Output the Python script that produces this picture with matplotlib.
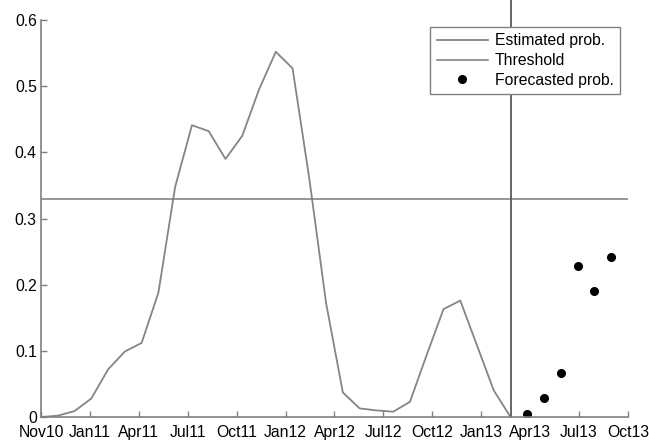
import numpy as np
import matplotlib.pyplot as plt

plt.rcParams['font.family'] = ['Liberation Sans', 'DejaVu Sans']

# months counted from Nov10
tick_labels = ["Nov10", "Jan11", "Apr11", "Jul11", "Oct11", "Jan12", "Apr12",
               "Jul12", "Oct12", "Jan13", "Apr13", "Jul13", "Oct13"]

est_prob = [0.0, 0.002, 0.009, 0.028, 0.072, 0.099, 0.112, 0.188, 0.348,
            0.441, 0.432, 0.390, 0.425, 0.495, 0.552, 0.527, 0.360, 0.172,
            0.037, 0.013, 0.010, 0.008, 0.023, 0.094, 0.163, 0.176, 0.108,
            0.040, 0.0]
fc_prob = [0.005, 0.028, 0.067, 0.228, 0.190, 0.242]
threshold = 0.329
n_months = 35

est_x = np.arange(len(est_prob))
fc_x = np.arange(len(fc_prob)) + len(est_prob)
cutoff = est_x[-1]

fig = plt.figure(figsize=(6.49, 4.41), dpi=100)
ax = fig.add_axes([0.0632, 0.0544, 0.9044, 0.9002])

ax.plot(est_x, est_prob, color="#858585", lw=1.3, label="Estimated prob.")
ax.axhline(threshold, color="#7a7a7a", lw=1.1, label="Threshold")
ax.axvline(cutoff, ymin=0, ymax=1.06, color="#5a5a5a", lw=1.3, clip_on=False)
ax.plot(fc_x, fc_prob, "o", color="black", ms=5.5, ls="none",
        label="Forecasted prob.")

ax.set_xlim(0, n_months)
ax.set_ylim(0, 0.6)
ax.set_xticks(np.linspace(0, n_months, len(tick_labels)))
ax.set_xticklabels(tick_labels)
ax.set_yticks(np.arange(0, 0.61, 0.1))
ax.set_yticklabels(["0", "0.1", "0.2", "0.3", "0.4", "0.5", "0.6"])

for side in ["top", "right"]:
    ax.spines[side].set_visible(False)
for side in ["left", "bottom"]:
    ax.spines[side].set_color("#808080")
    ax.spines[side].set_linewidth(1.2)
ax.tick_params(direction="in", length=4, width=1, color="#808080",
               labelsize=11.3)
ax.tick_params(axis="x", pad=6)
ax.tick_params(axis="y", pad=3)

leg = ax.legend(loc="upper right", bbox_to_anchor=(0.986, 0.982),
                borderaxespad=0, fontsize=11.3, frameon=True, fancybox=False,
                handlelength=3.3, handletextpad=0.4, borderpad=0.4,
                labelspacing=0.3)
leg.get_frame().set_edgecolor("#808080")
leg.get_frame().set_linewidth(1.0)
leg.get_frame().set_alpha(1)

fig.savefig("out.png", dpi=100)
